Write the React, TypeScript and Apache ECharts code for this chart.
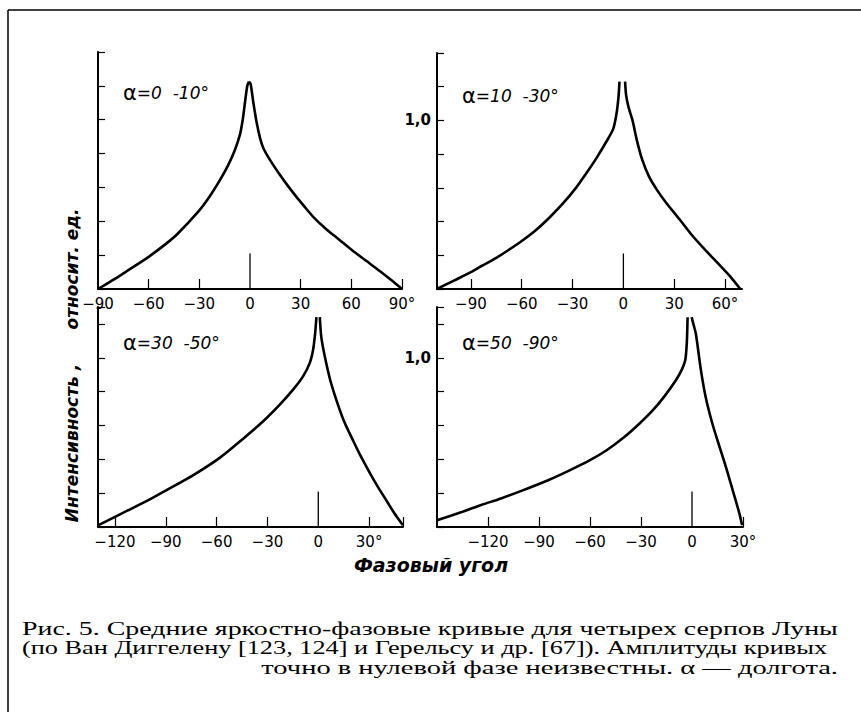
import React, { useEffect, useRef } from "react";
import * as echarts from "echarts";

// Panel 1: α = 0–10°
const p1LeftPhase = [-90, -80, -73, -60, -50, -43, -30, -24, -18, -13, -9, -6, -4.3, -3, -1.6, -0.6];
const p1LeftValue = [0, 0.06, 0.105, 0.19, 0.265, 0.325, 0.465, 0.545, 0.64, 0.73, 0.82, 0.91, 1.0, 1.1, 1.2, 1.225];
const p1RightPhase = [-0.6, 0.4, 2, 4, 6, 8, 12, 18, 22, 27, 32, 38, 45, 53, 61, 69, 77, 84, 90];
const p1RightValue = [1.225, 1.21, 1.1, 0.98, 0.89, 0.83, 0.76, 0.67, 0.615, 0.55, 0.49, 0.42, 0.355, 0.29, 0.225, 0.165, 0.105, 0.05, 0];

// Panel 2: α = 10–30°
const p2LeftPhase = [-110, -100, -90, -84, -75, -68, -60, -51, -43, -35, -28, -22, -16, -10, -6, -3.9, -2.8, -2.3];
const p2LeftValue = [0, 0.05, 0.1, 0.135, 0.185, 0.23, 0.285, 0.355, 0.43, 0.515, 0.6, 0.685, 0.775, 0.875, 0.95, 1.05, 1.15, 1.23];
const p2RightPhase = [1, 1.6, 3, 5.4, 8, 11, 15, 20, 25, 33, 40, 48, 56, 63, 69];
const p2RightValue = [1.23, 1.15, 1.08, 1.0, 0.88, 0.77, 0.67, 0.585, 0.515, 0.415, 0.325, 0.235, 0.15, 0.075, 0];

// Panel 3: α = 30–50°
const p3LeftPhase = [-130, -113, -100, -90, -74, -58, -44, -33, -23, -15, -9, -5, -3, -1.8, -1.1];
const p3LeftValue = [0.01, 0.095, 0.16, 0.215, 0.305, 0.41, 0.525, 0.62, 0.72, 0.81, 0.89, 0.97, 1.05, 1.15, 1.24];
const p3RightPhase = [0.9, 1.8, 3.8, 7, 10.7, 15, 20.6, 25, 30.4, 35, 40.3, 45, 50];
const p3RightValue = [1.24, 1.12, 1.01, 0.87, 0.75, 0.63, 0.51, 0.42, 0.32, 0.24, 0.155, 0.08, 0.01];

// Panel 4: α = 50–90°
const p4LeftPhase = [-150, -135, -124, -112, -100, -85, -72, -60, -50, -40, -31, -23, -16, -9.3, -6, -3.9, -3, -2.6];
const p4LeftValue = [0.04, 0.09, 0.13, 0.17, 0.215, 0.275, 0.335, 0.395, 0.455, 0.53, 0.61, 0.69, 0.775, 0.87, 0.93, 0.99, 1.1, 1.24];
const p4RightPhase = [-0.2, 0.8, 2.3, 5.2, 8, 12, 16, 19.8, 23, 25.6, 28, 29.5];
const p4RightValue = [1.24, 1.2, 1.14, 0.93, 0.77, 0.61, 0.48, 0.36, 0.25, 0.16, 0.075, 0.01];

// Axes
const xMins = [-90, -110, -130, -150];
const xMaxs = [90, 70, 50, 30];
const yMaxs = [1.4, 1.4, 1.3, 1.3];
const xLabelValues = [
  [-90, -60, -30, 0, 30, 60, 90],
  [-90, -60, -30, 0, 30, 60],
  [-120, -90, -60, -30, 0, 30],
  [-120, -90, -60, -30, 0, 30],
];
const xTickValues = [
  [-60, -30, 30, 60, 90],
  [-90, -60, -30, 30, 60],
  [-120, -90, -60, -30, 30, 50],
  [-120, -90, -60, -30, 30],
];
const showYLabel = [false, true, false, true];
const zeroMarkPhase = [0, 0];
const zeroMarkValue = [0, 0.21];

const panelTitlesA = ["α", "α", "α", "α"];
const panelTitlesB = ["=0  -10°", "=10  -30°", "=30  -50°", "=50  -90°"];

const yTitle1 = "Интенсивность ,";
const yTitle2 = "относит. ед.";
const xTitle = "Фазовый угол";
const caption = [
  "Рис. 5. Средние яркостно-фазовые кривые для четырех серпов Луны",
  "(по Ван Диггелену [123, 124] и Герельсу и др. [67]). Амплитуды кривых",
  "точно в нулевой фазе неизвестны. α — долгота.",
];

const zip = (a: number[], b: number[]) => a.map((v, i) => [v, b[i]]);

const branches = [
  [zip(p1LeftPhase, p1LeftValue), zip(p1RightPhase, p1RightValue)],
  [zip(p2LeftPhase, p2LeftValue), zip(p2RightPhase, p2RightValue)],
  [zip(p3LeftPhase, p3LeftValue), zip(p3RightPhase, p3RightValue)],
  [zip(p4LeftPhase, p4LeftValue), zip(p4RightPhase, p4RightValue)],
];

const grids = [
  { left: 98, top: 52, width: 304, height: 237 },
  { left: 437, top: 53, width: 305, height: 236 },
  { left: 98, top: 307, width: 305, height: 220 },
  { left: 437, top: 307, width: 306, height: 220 },
];
const titlePos = [
  [123, 93],
  [462, 96],
  [123, 343],
  [462, 343],
];

const sans = "'DejaVu Sans', sans-serif";

function fmtX(v: number, last: number) {
  const s = v < 0 ? "\u2212" + Math.abs(v) : String(v);
  return v === last ? s + "°" : s;
}

export default function App() {
  const ref = useRef<HTMLDivElement>(null);
  useEffect(() => {
    document.body.style.margin = "0";
    if (!ref.current) return;
    const chart = echarts.init(ref.current, undefined, { renderer: "svg" });

    const xAxis = grids.map((_, i) => ({
      type: "value",
      gridIndex: i,
      min: xMins[i],
      max: xMaxs[i],
      axisLine: { show: true, onZero: false, lineStyle: { color: "#000", width: 2 } },
      axisTick: {
        show: true,
        inside: true,
        length: 10,
        customValues: xTickValues[i],
        lineStyle: { color: "#000", width: 1.2 },
      },
      axisLabel: {
        customValues: xLabelValues[i],
        formatter: (v: number) => fmtX(v, xLabelValues[i][xLabelValues[i].length - 1]),
        color: "#000",
        fontSize: 15,
        fontFamily: sans,
        margin: 7,
      },
      splitLine: { show: false },
    }));

    const yAxis = grids.map((_, i) => ({
      type: "value",
      gridIndex: i,
      min: 0,
      max: yMaxs[i],
      interval: 0.2,
      axisLine: { show: true, onZero: false, lineStyle: { color: "#000", width: 2 } },
      axisTick: { show: true, inside: true, length: 7, lineStyle: { color: "#000", width: 1.2 } },
      axisLabel: {
        show: showYLabel[i],
        formatter: (v: number) => (Math.abs(v - 1) < 1e-6 ? "1,0" : ""),
        color: "#000",
        fontSize: 15,
        fontWeight: "bold",
        fontFamily: sans,
        margin: 6,
      },
      splitLine: { show: false },
    }));

    const series: any[] = [];
    branches.forEach((pair, i) => {
      pair.forEach((data) => {
        series.push({
          type: "line",
          xAxisIndex: i,
          yAxisIndex: i,
          data,
          showSymbol: false,
          symbol: "none",
          smooth: 0.25,
          lineStyle: { color: "#000", width: 2.6 },
          silent: true,
        });
      });
      series.push({
        type: "line",
        xAxisIndex: i,
        yAxisIndex: i,
        data: zip(zeroMarkPhase, zeroMarkValue),
        showSymbol: false,
        symbol: "none",
        lineStyle: { color: "#000", width: 1.3 },
        silent: true,
      });
    });

    const titleStyle = {
      fontFamily: sans,
      fontStyle: "italic",
      fontWeight: "bold",
      fontSize: 17,
      fill: "#000",
      textAlign: "center",
      textVerticalAlign: "middle",
    };

    const graphic: any[] = [
      { type: "line", shape: { x1: 8, y1: 10, x2: 861, y2: 10 }, style: { stroke: "#000", lineWidth: 1.5 } },
      { type: "line", shape: { x1: 8, y1: 10, x2: 8, y2: 712 }, style: { stroke: "#000", lineWidth: 1.5 } },
      { type: "text", x: 72, y: 443, rotation: Math.PI / 2, style: { ...titleStyle, text: yTitle1 } },
      { type: "text", x: 72, y: 269, rotation: Math.PI / 2, style: { ...titleStyle, text: yTitle2 } },
      { type: "text", x: 431, y: 565, style: { ...titleStyle, fontSize: 19, text: xTitle } },
    ];
    titlePos.forEach((p, i) => {
      graphic.push({
        type: "text",
        x: p[0],
        y: p[1],
        style: {
          text: "{a|" + panelTitlesA[i] + "}{b|" + panelTitlesB[i] + "}",
          textVerticalAlign: "middle",
          rich: {
            a: { fontFamily: sans, fontSize: 21, fill: "#000", color: "#000" },
            b: { fontFamily: sans, fontSize: 17, fontStyle: "italic", fill: "#000", color: "#000" },
          },
        },
      });
    });
    const capY = [629, 648, 667];
    const capScale = [1.47, 1.385, 1.5];
    caption.forEach((line, i) => {
      graphic.push({
        type: "text",
        x: i === 2 ? 838 : 22,
        y: capY[i],
        scaleX: capScale[i],
        style: {
          text: line,
          fontFamily: "'Liberation Serif', serif",
          fontSize: 19,
          fill: "#000",
          textAlign: i === 2 ? "right" : "left",
          textVerticalAlign: "middle",
        },
      });
    });

    chart.setOption({
      animation: false,
      backgroundColor: "#fff",
      grid: grids,
      xAxis,
      yAxis,
      series,
      graphic,
    });
    return () => chart.dispose();
  }, []);
  return <div ref={ref} style={{ width: 861, height: 712 }} />;
}
